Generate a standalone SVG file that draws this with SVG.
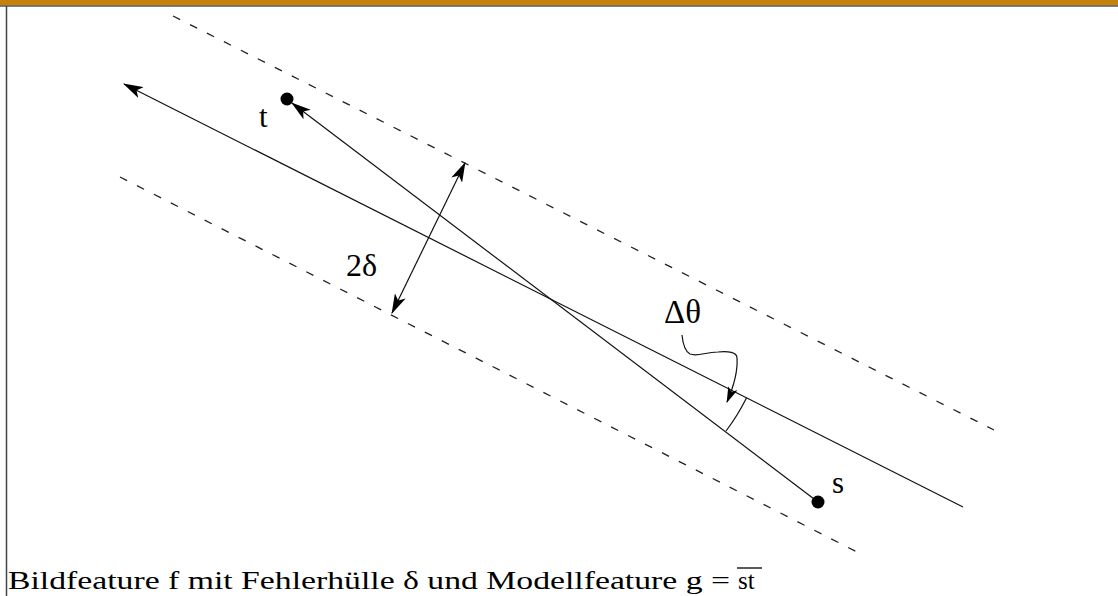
<svg xmlns="http://www.w3.org/2000/svg" width="1118" height="596" viewBox="0 0 1118 596">
<style>
.ln{stroke:#111;stroke-width:1.2;fill:none}
.dash{stroke:#222;stroke-width:1.3;fill:none;stroke-dasharray:8 11}
.lbl{font-family:"Liberation Serif","DejaVu Serif",serif;fill:#000}
</style>
<defs>
<marker id="ah" viewBox="0 0 20 12" refX="19" refY="6" markerWidth="20" markerHeight="12" markerUnits="userSpaceOnUse" orient="auto-start-reverse">
<path d="M0,0 L20,6 L0,12 L5,6 Z" fill="#000"/>
</marker>
<marker id="ah2" viewBox="0 0 16 10" refX="15" refY="5" markerWidth="16" markerHeight="10" markerUnits="userSpaceOnUse" orient="auto">
<path d="M0,0 L16,5 L0,10 L4,5 Z" fill="#000"/>
</marker>
</defs>
<rect x="0" y="0" width="1118" height="5.5" fill="#c4820a"/>
<line x1="0" y1="6" x2="1118" y2="6" stroke="#555" stroke-width="1.5"/>
<line x1="6.5" y1="6" x2="6.5" y2="596" stroke="#444" stroke-width="1.5"/>
<g id="connectors">
<line class="dash" x1="173" y1="16" x2="994" y2="430"/>
<line class="dash" x1="120" y1="177" x2="863" y2="555"/>
<line class="ln" x1="963" y1="507" x2="124" y2="84" marker-end="url(#ah)"/>
<line class="ln" x1="818" y1="502" x2="292" y2="103" marker-end="url(#ah)"/>
<line class="ln" x1="392" y1="313" x2="465" y2="163" marker-start="url(#ah)" marker-end="url(#ah)"/>
<path class="ln" d="M746.6,397.7 A217,217 0 0 1 726,431"/>
<path class="ln" stroke-width="1.5" d="M682,335 C683,345 686,352 690,354 C698,357 705,352 718,352 C728,351 737,352 737,358 C738,372 733,388 727,402" marker-end="url(#ah2)"/>
</g>
<g id="node-t">
<circle cx="287" cy="99" r="6.5" fill="#000"/>
<text class="lbl" x="259" y="127" font-size="31">t</text>
</g>
<g id="node-s">
<circle cx="818" cy="502" r="6.5" fill="#000"/>
<text class="lbl" x="832" y="493" font-size="31">s</text>
</g>
<g id="label-2delta">
<text class="lbl" x="346" y="276" font-size="32">2δ</text>
</g>
<g id="label-dtheta">
<text class="lbl" x="664" y="323" font-size="33">Δθ</text>
</g>
<g id="caption">
<text class="lbl" x="8" y="589" font-size="25" textLength="722" lengthAdjust="spacingAndGlyphs">Bildfeature f mit Fehlerhülle δ und Modellfeature g =</text>
<text class="lbl" x="738" y="589" font-size="25">st</text>
<line x1="737" y1="568" x2="762" y2="568" stroke="#000" stroke-width="1.3"/>
</g>
</svg>
